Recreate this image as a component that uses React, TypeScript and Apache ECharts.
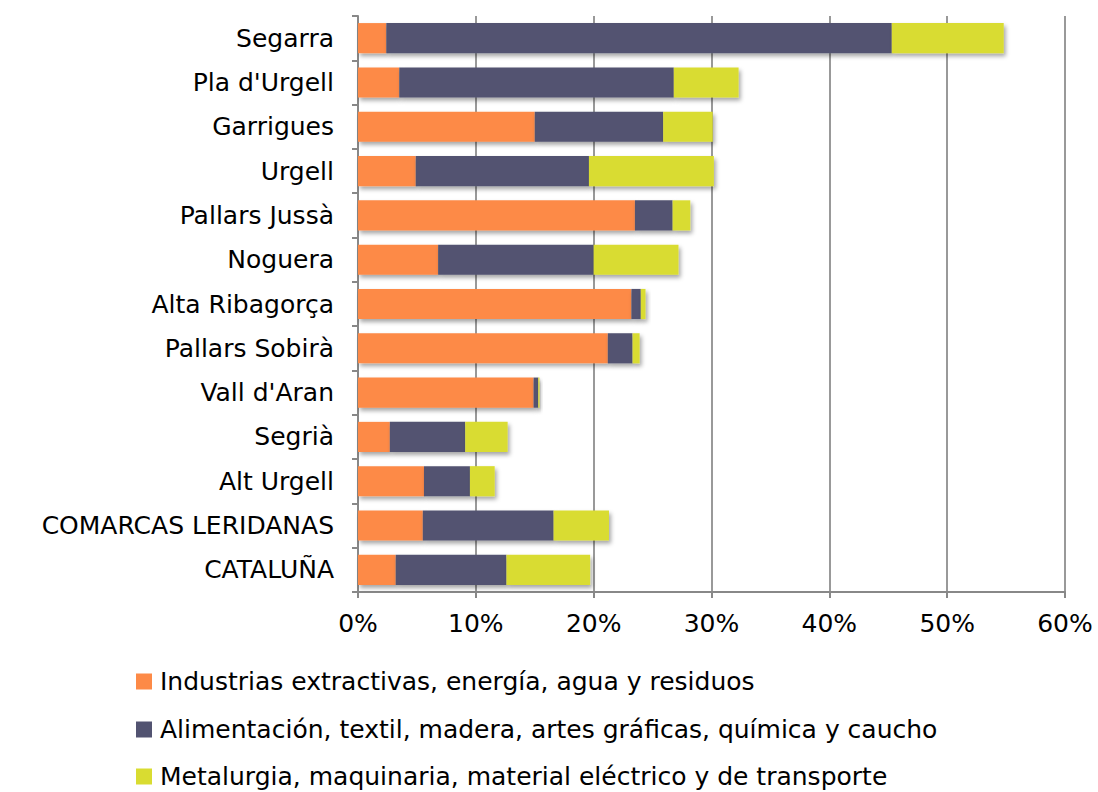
import React, { useEffect, useRef } from "react";
import * as echarts from "echarts";

const categories = [
  "Segarra",
  "Pla d'Urgell",
  "Garrigues",
  "Urgell",
  "Pallars Jussà",
  "Noguera",
  "Alta Ribagorça",
  "Pallars Sobirà",
  "Vall d'Aran",
  "Segrià",
  "Alt Urgell",
  "COMARCAS LERIDANAS",
  "CATALUÑA",
];

const seriesNames = [
  "Industrias extractivas, energía, agua y residuos",
  "Alimentación, textil, madera, artes gráficas, química y caucho",
  "Metalurgia, maquinaria, material eléctrico y de transporte",
];

const extractivas = [2.4, 3.5, 15.0, 4.9, 23.5, 6.8, 23.2, 21.2, 14.9, 2.7, 5.6, 5.5, 3.2];
const alimentacion = [42.9, 23.3, 10.9, 14.7, 3.2, 13.2, 0.8, 2.1, 0.4, 6.4, 3.9, 11.1, 9.4];
const metalurgia = [9.5, 5.5, 4.2, 10.6, 1.5, 7.2, 0.4, 0.6, 0.1, 3.6, 2.1, 4.7, 7.1];

const colors = ["#FD8A47", "#525371", "#D9DC31"];

const FONT = "'DejaVu Sans', sans-serif";
const FS = 25;

export default function App() {
  const ref = useRef<HTMLDivElement>(null);
  useEffect(() => {
    if (!ref.current) return;
    const chart = echarts.init(ref.current, undefined, { renderer: "svg" });
    const data = [extractivas, alimentacion, metalurgia];
    const legendTops = [664, 712, 759];
    chart.setOption({
      animation: false,
      backgroundColor: "#ffffff",
      textStyle: { fontFamily: FONT },
      grid: { left: 358, right: 33, top: 16, bottom: 200, containLabel: false },
      legend: seriesNames.map((name, i) => ({
        orient: "horizontal",
        left: 131,
        top: legendTops[i],
        itemWidth: 16,
        itemHeight: 16,
        itemGap: 0,
        icon: "rect",
        data: [name],
        textStyle: { fontSize: FS, color: "#000", fontFamily: FONT, padding: [0, 0, 0, 3] },
        selectedMode: false,
      })),
      xAxis: {
        type: "value",
        min: 0,
        max: 60,
        interval: 10,
        axisLabel: {
          formatter: (v: number) => `${v}%`,
          fontSize: FS,
          color: "#000",
          margin: 19,
          fontFamily: FONT,
        },
        axisLine: { show: true, lineStyle: { color: "#888", width: 2 } },
        axisTick: { show: true, length: 6, lineStyle: { color: "#888", width: 2 } },
        splitLine: { show: true, lineStyle: { color: "#999", width: 2 } },
      },
      yAxis: {
        type: "category",
        inverse: true,
        data: categories,
        axisLabel: { fontSize: FS, color: "#000", margin: 24, fontFamily: FONT },
        axisLine: { show: true, lineStyle: { color: "#888", width: 2 } },
        axisTick: { show: true, length: 6, lineStyle: { color: "#888", width: 2 } },
      },
      series: seriesNames.map((name, i) => ({
        name,
        type: "bar",
        stack: "total",
        data: data[i],
        barCategoryGap: "32%",
        itemStyle: {
          color: colors[i],
          shadowBlur: 4,
          shadowOffsetX: 2,
          shadowOffsetY: 3,
          shadowColor: "rgba(0,0,0,0.35)",
        },
      })),
    });
    return () => chart.dispose();
  }, []);
  return <div ref={ref} style={{ width: 1098, height: 792, position: "absolute", left: 0, top: 0 }} />;
}
